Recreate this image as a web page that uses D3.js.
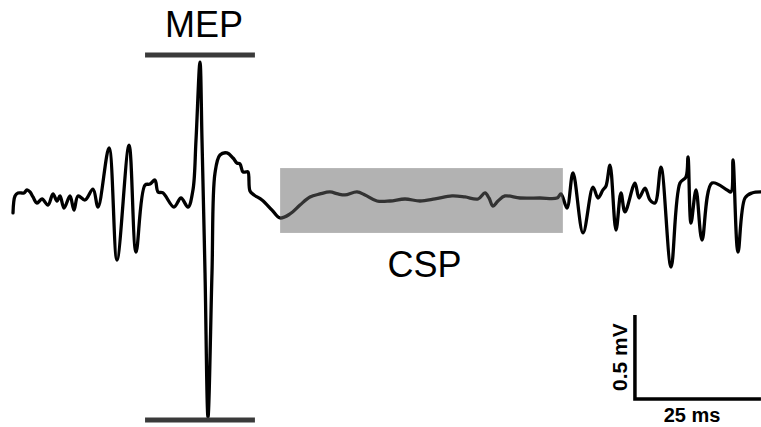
<!DOCTYPE html>
<html>
<head>
<meta charset="utf-8">
<script src="https://cdn.jsdelivr.net/npm/d3@7"></script>
<style>
  html, body { margin: 0; padding: 0; background: #ffffff; }
  svg { display: block; }
</style>
</head>
<body>
<svg id="chart" width="761" height="427"></svg>
<script>
// EMG trace: time (ms) and amplitude (mV)
const timeMs = [0,0.40,0.99,2.18,2.78,3.37,3.97,4.76,5.75,6.94,7.94,8.73,9.33,10.12,11.31,12.10,12.90,14.29,15.87,16.87,19.05,20.63,23.02,24.40,26.19,27.18,28.17,28.77,29.76,31.94,33.33,34.72,35.71,36.31,37.10,37.50,38.10,38.69,39.48,40.08,41.07,42.46,43.65,44.44,45.04,45.63,46.23,46.63,47.02,47.82,49.40,51.39,52.98,54.96,56.94,58.93,60.91,62.90,64.48,65.87,68.25,69.84,72.22,74.80,77.78,80.75,83.73,87.10,89.68,92.26,93.65,94.44,95.24,96.23,97.62,100.60,104.56,107.94,108.73,109.92,111.11,113.10,115.08,116.07,117.06,117.66,118.45,119.64,120.63,121.43,123.41,124.21,125.40,126.39,127.38,128.57,130.56,132.34,133.53,133.93,134.52,135.52,136.71,138.69,141.67,142.46,142.86,143.85,145.24,146.63,148.41];
const ampMv = [-0.077,0.024,0.042,0.042,0.060,0.048,0.018,-0.018,0.006,-0.030,0.036,-0.006,0.024,-0.048,0.024,-0.060,0.024,0,0.065,-0.042,0.310,-0.357,0.327,-0.310,0.089,0.095,0.119,0.048,0.042,-0.042,0.012,-0.042,0.060,0.357,0.821,0.357,-0.435,-1.292,-0.435,0.161,0.268,0.280,0.250,0.220,0.214,0.167,0.167,0.167,0.054,0.030,0,-0.060,-0.107,-0.083,-0.030,0.018,0.036,0.048,0.036,0.030,0.048,0.030,-0.006,-0.006,0.006,-0.006,0.006,0.024,0.018,0.006,0.042,0.012,-0.036,-0.006,0.024,0.012,0.012,0.012,0.036,-0.048,0.161,-0.196,0.077,0.012,0.060,0.083,0.208,-0.179,0.042,-0.071,0.101,0.012,0.071,0,-0.018,0.196,-0.399,0.101,0.137,0.256,-0.137,0.060,-0.238,0.101,0.060,0.048,0.238,-0.310,0.012,0.042,0.048];

// Annotations
const mepLabel = "MEP";
const mepRangeMs = [26.2, 48.0];
const mepLevelsMv = [0.863, -1.310];
const cspLabel = "CSP";
const cspRangeMs = [53.0, 109.1];
const cspRangeMv = [-0.196, 0.190];
const scaleBarTimeMs = [123.4, 148.4];   // 25 ms
const scaleBarAmpMv = [-1.185, -0.685];  // 0.5 mV
const scaleBarTimeLabel = "25 ms";
const scaleBarAmpLabel = "0.5 mV";

const svg = d3.select("#chart");
const x = d3.scaleLinear().domain([0, 150]).range([13, 769]);
const y = d3.scaleLinear().domain([0, 1]).range([200, 32]);

const data = timeMs.map((t, i) => ({ t, v: ampMv[i] }));

// trace
const line = d3.line().x(d => x(d.t)).y(d => y(d.v)).curve(d3.curveCatmullRom.alpha(0.5));
svg.append("path").datum(data)
  .attr("d", line)
  .attr("fill", "none")
  .attr("stroke", "#000")
  .attr("stroke-width", 3.3)
  .attr("stroke-linejoin", "round")
  .attr("stroke-linecap", "round");

// CSP shaded window (semi-transparent over trace)
svg.append("rect")
  .attr("x", x(cspRangeMs[0]))
  .attr("y", y(cspRangeMv[1]))
  .attr("width", x(cspRangeMs[1]) - x(cspRangeMs[0]))
  .attr("height", y(cspRangeMv[0]) - y(cspRangeMv[1]))
  .attr("fill", "rgb(101,101,101)")
  .attr("fill-opacity", 0.5);

svg.append("text")
  .attr("x", x((cspRangeMs[0] + cspRangeMs[1]) / 2) + 3)
  .attr("y", 277)
  .attr("text-anchor", "middle")
  .attr("font-family", "Liberation Sans, Arial, sans-serif")
  .attr("font-size", 36)
  .attr("fill", "#000")
  .text(cspLabel);

// MEP bars
mepLevelsMv.forEach(v => {
  svg.append("line")
    .attr("x1", x(mepRangeMs[0])).attr("x2", x(mepRangeMs[1]))
    .attr("y1", y(v)).attr("y2", y(v))
    .attr("stroke", "#3a3a3a")
    .attr("stroke-width", 5);
});
svg.append("text")
  .attr("x", 204)
  .attr("y", 37)
  .attr("text-anchor", "middle")
  .attr("font-family", "Liberation Sans, Arial, sans-serif")
  .attr("font-size", 36)
  .attr("fill", "#000")
  .text(mepLabel);

// scale bar
const sbx = x(scaleBarTimeMs[0]);
svg.append("path")
  .attr("d", `M${sbx},${y(scaleBarAmpMv[1])}L${sbx},${y(scaleBarAmpMv[0])}L${x(scaleBarTimeMs[1])},${y(scaleBarAmpMv[0])}`)
  .attr("fill", "none")
  .attr("stroke", "#000")
  .attr("stroke-width", 3.5);

svg.append("text")
  .attr("x", 692)
  .attr("y", 422)
  .attr("text-anchor", "middle")
  .attr("font-family", "Liberation Sans, Arial, sans-serif")
  .attr("font-weight", "bold")
  .attr("font-size", 20)
  .attr("fill", "#000")
  .text(scaleBarTimeLabel);

const ampMid = (y(scaleBarAmpMv[0]) + y(scaleBarAmpMv[1])) / 2;
svg.append("text")
  .attr("transform", `translate(627,${ampMid}) rotate(-90)`)
  .attr("text-anchor", "middle")
  .attr("font-family", "Liberation Sans, Arial, sans-serif")
  .attr("font-weight", "bold")
  .attr("font-size", 21)
  .attr("fill", "#000")
  .text(scaleBarAmpLabel);
</script>
</body>
</html>
